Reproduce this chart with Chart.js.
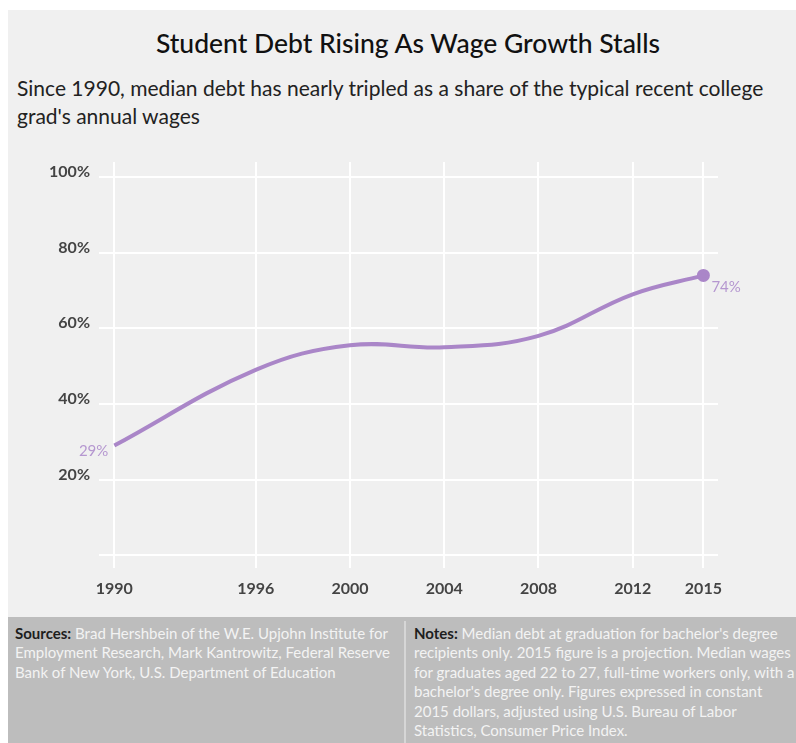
<!DOCTYPE html>
<html>
<head>
<meta charset="utf-8">
<script src="https://cdn.jsdelivr.net/npm/chart.js@4/dist/chart.umd.min.js"></script>
<style>
  body { margin: 0; background: #fff; font-family: Lato, "Open Sans", sans-serif; }
  #panel { position: absolute; left: 8px; top: 10px; width: 788px; height: 733px; background: #f0f0f0; overflow: hidden; }
  #title { position: absolute; left: 0; width: 800px; top: 17px; text-align: center; font-size: 26.5px; font-weight: 500; color: #111; }
  #subtitle { position: absolute; left: 9px; top: 64px; font-size: 21px; line-height: 28px; color: #222; }
  #chartBox { position: absolute; left: -8px; top: 140px; width: 796px; height: 460px; }
  #footer { position: absolute; left: 0; top: 607px; width: 788px; height: 126px; background: #bdbdbd; }
  .col { position: absolute; top: 7px; font-size: 15px; line-height: 19.4px; color: #f3f3f3; }
  .col b { color: #1e1e1e; font-weight: 700; }
  #sources { left: 7px; width: 385px; }
  #notes { left: 406px; width: 390px; }
  #divider { position: absolute; left: 396px; top: 4px; width: 2px; height: 122px; background: #d6d6d6; }
</style>
</head>
<body>
<div id="panel">
  <div id="title">Student Debt Rising As Wage Growth Stalls</div>
  <div id="subtitle">Since 1990, median debt has nearly tripled as a share of the typical recent college<br>grad's annual wages</div>
  <div id="chartBox"><canvas id="debtChart"></canvas></div>
  <div id="footer">
    <div id="divider"></div>
    <div class="col" id="sources"><b>Sources:</b> Brad Hershbein of the W.E. Upjohn Institute for<br>Employment Research, Mark Kantrowitz, Federal Reserve<br>Bank of New York, U.S. Department of Education</div>
    <div class="col" id="notes"><b>Notes:</b> Median debt at graduation for bachelor's degree<br>recipients only. 2015 figure is a projection. Median wages<br>for graduates aged 22 to 27, full-time workers only, with a<br>bachelor's degree only. Figures expressed in constant<br>2015 dollars, adjusted using U.S. Bureau of Labor<br>Statistics, Consumer Price Index.</div>
  </div>
</div>
<script>
const years = [1990, 1996, 2000, 2004, 2008, 2012, 2015];
const debtShare = [29, 49, 55.5, 55, 58, 69, 74];
const yTicks = [0, 20, 40, 60, 80, 100];

const lineColor = '#aa86c8';
const labelColor = '#b597d0';

// draws the "29%" and "74%" end labels
const endLabels = {
  id: 'endLabels',
  afterDatasetsDraw(chart) {
    const pts = chart.getDatasetMeta(0).data;
    const ctx = chart.ctx;
    const first = pts[0];
    const last = pts[pts.length - 1];
    ctx.save();
    ctx.fillStyle = labelColor;
    ctx.font = '15px Lato, sans-serif';
    ctx.textBaseline = 'middle';
    ctx.textAlign = 'right';
    ctx.fillText(debtShare[0] + '%', first.x - 6, first.y + 6);
    ctx.textAlign = 'left';
    ctx.fillText(debtShare[debtShare.length - 1] + '%', last.x + 8, last.y + 12);
    ctx.restore();
  }
};

new Chart(document.getElementById('debtChart'), {
  type: 'line',
  data: {
    datasets: [{
      data: years.map((y, i) => ({ x: y, y: debtShare[i] })),
      borderColor: lineColor,
      backgroundColor: lineColor,
      borderWidth: 4,
      tension: 0.4,
      pointRadius: years.map((y, i) => i === years.length - 1 ? 4.5 : 0),
      pointHoverRadius: 0,
      fill: false
    }]
  },
  options: {
    responsive: true,
    maintainAspectRatio: false,
    animation: false,
    layout: { padding: { left: 0, right: 78, top: 12, bottom: 0 } },
    plugins: { legend: { display: false }, tooltip: { enabled: false } },
    scales: {
      x: {
        type: 'linear',
        min: 1989.35,
        max: 2015.62,
        afterBuildTicks: s => { s.ticks = years.map(v => ({ value: v })); },
        afterFit: s => { s.height = 42; s.paddingLeft = 0; s.paddingRight = 0; },
        grid: { color: '#ffffff', lineWidth: 2, drawTicks: false },
        border: { display: false },
        ticks: {
          color: '#444',
          font: { family: 'Lato, sans-serif', size: 16, weight: 'bold' },
          padding: 11,
          maxRotation: 0,
          callback: v => String(v)
        }
      },
      y: {
        min: -3.4,
        max: 104,
        afterBuildTicks: s => { s.ticks = yTicks.map(v => ({ value: v })); },
        afterFit: s => { s.width = 99; s.paddingTop = 0; s.paddingBottom = 0; },
        grid: { color: '#ffffff', lineWidth: 2, drawTicks: false },
        border: { display: false },
        ticks: {
          color: '#444',
          font: { family: 'Lato, sans-serif', size: 16, weight: 'bold' },
          padding: 9,
          labelOffset: -5,
          callback: v => v === 0 ? '' : v + '%'
        }
      }
    }
  },
  plugins: [endLabels]
});
</script>
</body>
</html>
